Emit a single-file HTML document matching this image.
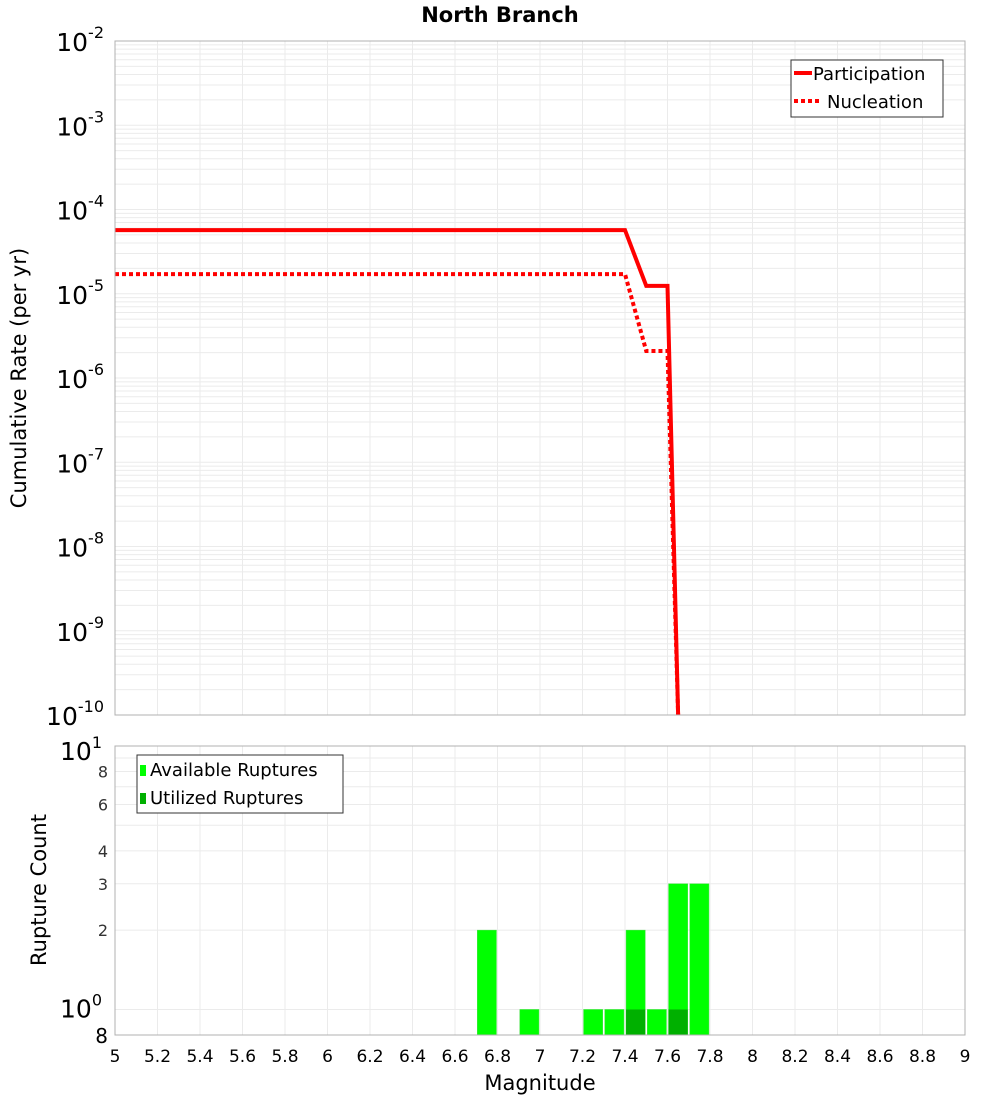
<!DOCTYPE html>
<html><head><meta charset="utf-8"><style>
body{margin:0;background:#fff;}
svg{display:block;font-family:"DejaVu Sans","Liberation Sans",sans-serif;}
</style></head><body>
<svg id="chart" width="1000" height="1100" viewBox="0 0 1000 1100" xmlns="http://www.w3.org/2000/svg">
<text x="500" y="22" text-anchor="middle" font-size="21" font-weight="bold">North Branch</text>
<g id="topplot"></g>
<g id="botplot"></g>
<text transform="translate(26,378) rotate(-90)" text-anchor="middle" font-size="21">Cumulative Rate (per yr)</text>
<text transform="translate(46,890) rotate(-90)" text-anchor="middle" font-size="21">Rupture Count</text>
<text x="540" y="1090" text-anchor="middle" font-size="21">Magnitude</text>
</svg>
<script>
const partMag=[5,7.4,7.5,7.6,7.65];
const partRate=[5.7e-5,5.7e-5,1.24e-5,1.24e-5,1e-10];
const nuclMag=[5,7.4,7.5,7.6,7.65];
const nuclRate=[1.71e-5,1.71e-5,2.09e-6,2.09e-6,1e-10];
const barMag=[6.75,6.95,7.25,7.35,7.45,7.55,7.65,7.75];
const availCount=[2,1,1,1,2,1,3,3];
const usedMag=[7.45,7.65];
const usedCount=[1,1];
const xTicks=[5,5.2,5.4,5.6,5.8,6,6.2,6.4,6.6,6.8,7,7.2,7.4,7.6,7.8,8,8.2,8.4,8.6,8.8,9];
const yDecades=[-2,-3,-4,-5,-6,-7,-8,-9,-10];
const countTicks=[2,3,4,6,8];

(function(){
const NS="http://www.w3.org/2000/svg";
const X0=115,X1=965;
const xs=m=>X0+(m-5)/4*(X1-X0);
const T0=41,T1=715;
const ysTop=v=>T0+(-2-Math.log10(v))/8*(T1-T0);
const B0=746,B1=1035;
const ysBot=v=>B0+(1-Math.log10(v))/(1-Math.log10(0.8))*(B1-B0);
function el(p,tag,a){const e=document.createElementNS(NS,tag);for(const k in a)e.setAttribute(k,a[k]);p.appendChild(e);return e;}
const topG=document.getElementById('topplot'),botG=document.getElementById('botplot');

for(let d=-10;d<-2;d++){for(let k=1;k<10;k++){const y=ysTop(k*Math.pow(10,d));
const g=el(topG,'line',{x1:X0,x2:X1,y1:y,y2:y,stroke:'#ebebeb','stroke-width':1});

}}
xTicks.forEach(m=>{const x=xs(m);
const g=el(topG,'line',{x1:x,x2:x,y1:T0,y2:T1,stroke:'#ebebeb'});


const g2=el(botG,'line',{x1:x,x2:x,y1:B0,y2:B1,stroke:'#ebebeb'});


const t=el(botG,'text',{x:x,y:1062,'text-anchor':'middle','font-size':17});t.textContent=String(m);

});
yDecades.forEach(d=>{const y=ysTop(Math.pow(10,d));
const t=el(topG,'text',{x:104,y:y+10,'text-anchor':'end','font-size':25});


t.appendChild(document.createTextNode('10'));
const s=el(t,'tspan',{dy:-13,'font-size':16});s.textContent=String(d);});

function line(p,ms,vs,dash,name){const pts=ms.map((m,i)=>xs(m)+','+ysTop(vs[i])).join(' ');
const a={points:pts,fill:'none',stroke:'#ff0000','stroke-width':4,'stroke-linejoin':'miter'};if(dash)a['stroke-dasharray']='4,3';
const e=el(p,'polyline',a);

}
line(topG,nuclMag,nuclRate,true,'nucleation-line');
line(topG,partMag,partRate,false,'participation-line');
const f1=el(topG,'rect',{x:X0,y:T0,width:X1-X0,height:T1-T0,fill:'none',stroke:'#b0b0b0'});



const lg=el(topG,'g',{});


el(lg,'rect',{x:791,y:60,width:152,height:57,fill:'#fff',stroke:'#333'});
el(lg,'line',{x1:794,x2:812,y1:73,y2:73,stroke:'#f00','stroke-width':4});
el(lg,'line',{x1:794,x2:822,y1:101,y2:101,stroke:'#f00','stroke-width':4,'stroke-dasharray':'4,3'});
let t=el(lg,'text',{x:813,y:80,'font-size':18});t.textContent='Participation';
t=el(lg,'text',{x:827,y:108,'font-size':18});t.textContent='Nucleation';

[1,2,3,4,5,6,7,8,9,10].forEach(v=>{const y=ysBot(v);
const g=el(botG,'line',{x1:X0,x2:X1,y1:y,y2:y,stroke:'#ebebeb'});

});
countTicks.forEach(v=>{const tt=el(botG,'text',{x:108,y:ysBot(v)+6,'text-anchor':'end','font-size':16,fill:'#333'});tt.textContent=String(v);

});
[[10,'1',ysBot(10)+14],[1,'0',ysBot(1)+8]].forEach(([v,e,y])=>{const tt=el(botG,'text',{x:102,y:y,'text-anchor':'end','font-size':25});


tt.appendChild(document.createTextNode('10'));const s=el(tt,'tspan',{dy:-12,'font-size':16});s.textContent=e;});
t=el(botG,'text',{x:108,y:1043,'text-anchor':'end','font-size':20});t.textContent='8';



const bw=0.09;
barMag.forEach((m,i)=>{const y=ysBot(availCount[i]);
const r=el(botG,'rect',{x:xs(m-bw/2),y:y,width:xs(m+bw/2)-xs(m-bw/2),height:B1-y,fill:'#00ff00',stroke:'#40e040','stroke-width':0.5});

});
usedMag.forEach((m,i)=>{const y=ysBot(usedCount[i]);
const r=el(botG,'rect',{x:xs(m-bw/2),y:y,width:xs(m+bw/2)-xs(m-bw/2),height:B1-y,fill:'#00b000'});

});
const f2=el(botG,'rect',{x:X0,y:B0,width:X1-X0,height:B1-B0,fill:'none',stroke:'#b0b0b0'});



const lb=el(botG,'g',{});


el(lb,'rect',{x:137,y:755,width:206,height:58,fill:'#fff',stroke:'#333'});
el(lb,'rect',{x:140,y:765,width:6,height:11,fill:'#00ff00'});
el(lb,'rect',{x:140,y:793,width:6,height:11,fill:'#00b000'});
t=el(lb,'text',{x:150,y:776,'font-size':18});t.textContent='Available Ruptures';
t=el(lb,'text',{x:150,y:804,'font-size':18});t.textContent='Utilized Ruptures';
})();
</script>
</body></html>
